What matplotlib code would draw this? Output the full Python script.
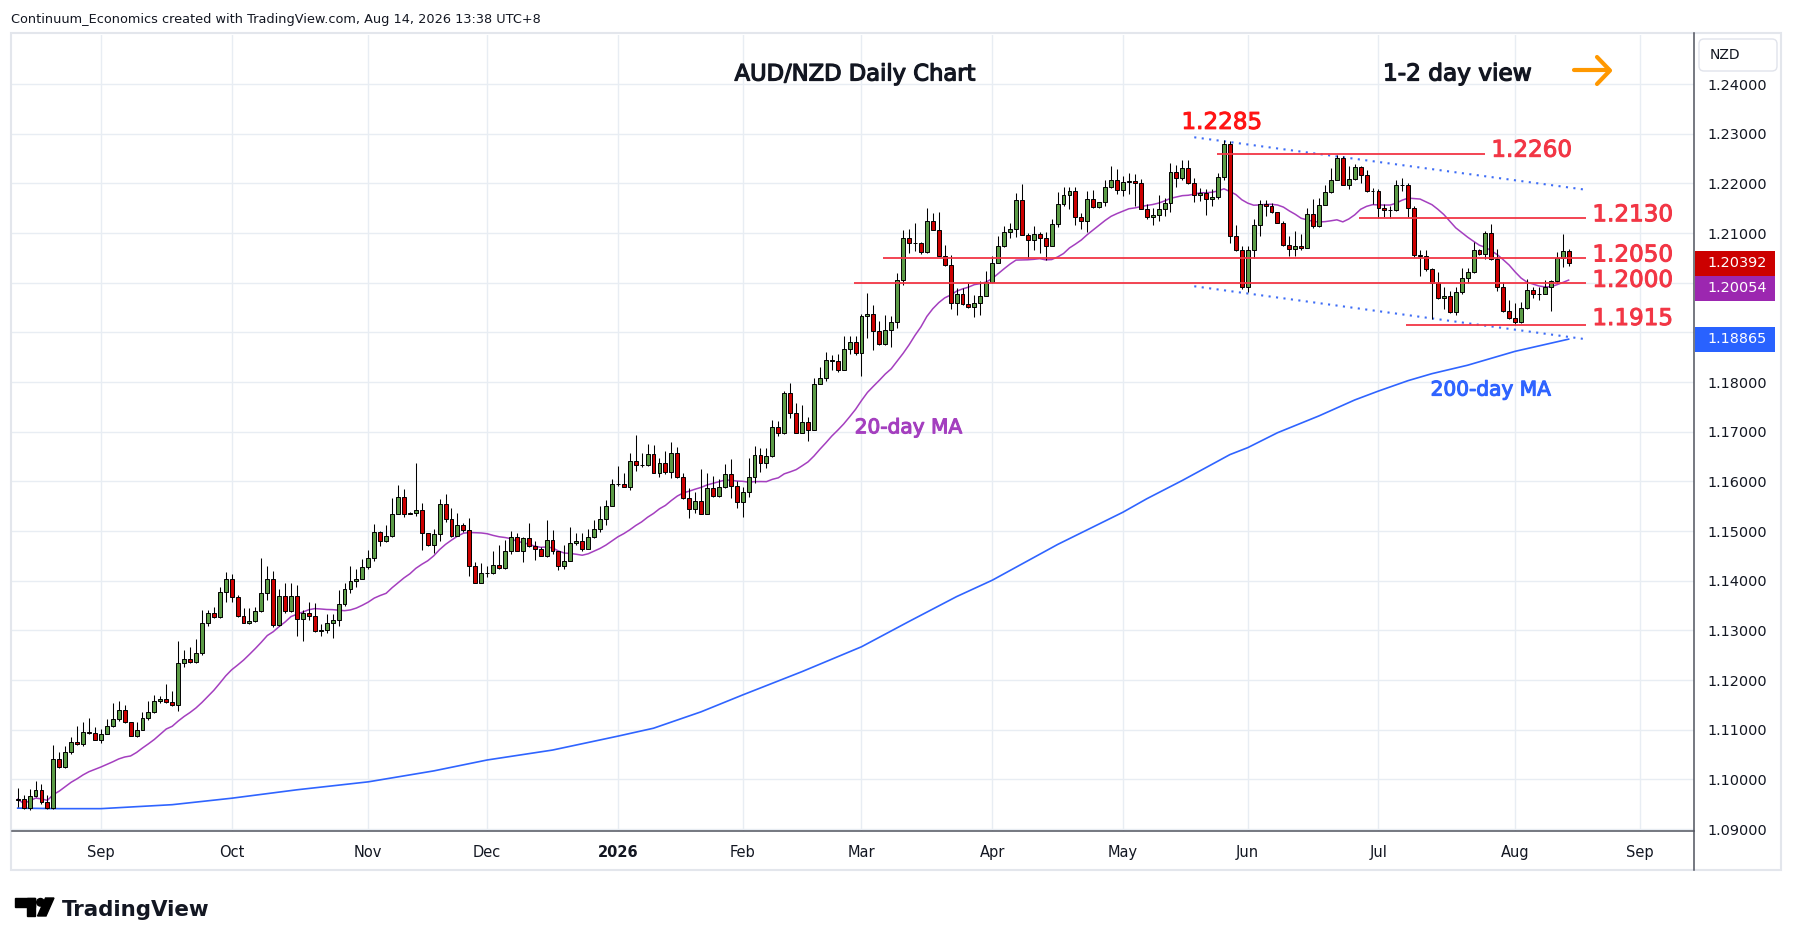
import numpy as np
import pandas as pd
import matplotlib
matplotlib.use("Agg")
import matplotlib.pyplot as plt
import matplotlib.patheffects as pe
from matplotlib import transforms
from matplotlib.patches import Rectangle, FancyBboxPatch, Circle, Polygon

# AUD/NZD daily candles, 12 Aug 2025 -> 14 Aug 2026
first_open = 1.0959
close = [
    1.0960, 1.0943, 1.0967, 1.0979, 1.0954, 1.0943, 1.1040, 1.1025, 1.1056, 1.1075,
    1.1071, 1.1095, 1.1093, 1.1080, 1.1092, 1.1107, 1.1121, 1.1139, 1.1115, 1.1088,
    1.1100, 1.1123, 1.1135, 1.1157, 1.1161, 1.1155, 1.1149, 1.1234, 1.1242, 1.1236,
    1.1254, 1.1315, 1.1335, 1.1327, 1.1377, 1.1403, 1.1367, 1.1329, 1.1315, 1.1319,
    1.1339, 1.1375, 1.1403, 1.1311, 1.1369, 1.1339, 1.1369, 1.1323, 1.1335, 1.1329,
    1.1298, 1.1300, 1.1315, 1.1320, 1.1354, 1.1384, 1.1399, 1.1404, 1.1428, 1.1446,
    1.1499, 1.1480, 1.1491, 1.1535, 1.1569, 1.1535, 1.1536, 1.1542, 1.1497, 1.1471,
    1.1495, 1.1555, 1.1524, 1.1491, 1.1513, 1.1503, 1.1430, 1.1396, 1.1416, 1.1415,
    1.1432, 1.1426, 1.1460, 1.1489, 1.1460, 1.1487, 1.1469, 1.1464, 1.1450, 1.1483,
    1.1460, 1.1430, 1.1440, 1.1476, 1.1480, 1.1464, 1.1488, 1.1504, 1.1524, 1.1551,
    1.1595, 1.1594, 1.1589, 1.1642, 1.1633, 1.1634, 1.1656, 1.1617, 1.1637, 1.1619,
    1.1658, 1.1609, 1.1567, 1.1545, 1.1561, 1.1535, 1.1587, 1.1571, 1.1589, 1.1615,
    1.1591, 1.1559, 1.1579, 1.1609, 1.1654, 1.1637, 1.1652, 1.1710, 1.1698, 1.1779,
    1.1738, 1.1698, 1.1720, 1.1704, 1.1797, 1.1809, 1.1845, 1.1843, 1.1825, 1.1866,
    1.1880, 1.1859, 1.1933, 1.1937, 1.1902, 1.1877, 1.1905, 1.1921, 1.2006, 1.2091,
    1.2081, 1.2080, 1.2063, 1.2125, 1.2107, 1.2054, 1.2036, 1.1960, 1.1978, 1.1958,
    1.1952, 1.1960, 1.1974, 1.2002, 1.2040, 1.2075, 1.2103, 1.2109, 1.2166, 1.2097,
    1.2087, 1.2099, 1.2091, 1.2075, 1.2119, 1.2158, 1.2176, 1.2184, 1.2133, 1.2125,
    1.2168, 1.2152, 1.2162, 1.2192, 1.2206, 1.2186, 1.2202, 1.2204, 1.2200, 1.2149,
    1.2133, 1.2137, 1.2149, 1.2161, 1.2224, 1.2211, 1.2232, 1.2200, 1.2177, 1.2181,
    1.2169, 1.2173, 1.2213, 1.2279, 1.2094, 1.2067, 1.1992, 1.2067, 1.2117, 1.2159,
    1.2154, 1.2143, 1.2121, 1.2076, 1.2069, 1.2075, 1.2071, 1.2139, 1.2114, 1.2157,
    1.2183, 1.2207, 1.2252, 1.2197, 1.2209, 1.2234, 1.2217, 1.2185, 1.2184, 1.2150,
    1.2147, 1.2146, 1.2197, 1.2196, 1.2150, 1.2055, 1.2054, 1.2027, 1.1999, 1.1970,
    1.1973, 1.1942, 1.1982, 1.2009, 1.2021, 1.2067, 1.2057, 1.2100, 1.2047, 1.1992,
    1.1944, 1.1930, 1.1922, 1.1950, 1.1985, 1.1977, 1.1978, 1.1991, 1.2003, 1.2050,
    1.2064, 1.20392,
]
high = [
    1.0983, 1.0968, 1.0981, 1.0996, 1.0990, 1.0969, 1.1069, 1.1055, 1.1068, 1.1086,
    1.1107, 1.1115, 1.1123, 1.1105, 1.1101, 1.1122, 1.1153, 1.1157, 1.1150, 1.1116,
    1.1116, 1.1136, 1.1157, 1.1170, 1.1168, 1.1192, 1.1178, 1.1279, 1.1261, 1.1266,
    1.1283, 1.1341, 1.1341, 1.1348, 1.1387, 1.1418, 1.1414, 1.1372, 1.1345, 1.1345,
    1.1348, 1.1446, 1.1430, 1.1419, 1.1383, 1.1395, 1.1395, 1.1392, 1.1342, 1.1358,
    1.1356, 1.1312, 1.1333, 1.1333, 1.1382, 1.1396, 1.1430, 1.1423, 1.1443, 1.1461,
    1.1514, 1.1500, 1.1513, 1.1567, 1.1592, 1.1585, 1.1538, 1.1638, 1.1557, 1.1497,
    1.1505, 1.1565, 1.1574, 1.1546, 1.1537, 1.1516, 1.1527, 1.1438, 1.1436, 1.1430,
    1.1460, 1.1471, 1.1483, 1.1500, 1.1497, 1.1489, 1.1517, 1.1481, 1.1467, 1.1522,
    1.1502, 1.1460, 1.1471, 1.1509, 1.1496, 1.1496, 1.1504, 1.1523, 1.1550, 1.1563,
    1.1605, 1.1632, 1.1617, 1.1658, 1.1694, 1.1658, 1.1676, 1.1674, 1.1648, 1.1661,
    1.1680, 1.1670, 1.1617, 1.1586, 1.1579, 1.1625, 1.1616, 1.1611, 1.1605, 1.1635,
    1.1646, 1.1601, 1.1589, 1.1648, 1.1671, 1.1667, 1.1668, 1.1724, 1.1721, 1.1782,
    1.1798, 1.1757, 1.1753, 1.1730, 1.1808, 1.1831, 1.1860, 1.1855, 1.1856, 1.1892,
    1.1893, 1.1892, 1.1938, 1.1980, 1.1956, 1.1923, 1.1935, 1.1933, 1.2020, 1.2106,
    1.2109, 1.2121, 1.2082, 1.2150, 1.2141, 1.2143, 1.2076, 1.2055, 1.1990, 1.1990,
    1.2000, 1.1975, 1.2004, 1.2024, 1.2053, 1.2094, 1.2115, 1.2121, 1.2180, 1.2199,
    1.2101, 1.2115, 1.2102, 1.2103, 1.2128, 1.2183, 1.2192, 1.2192, 1.2192, 1.2141,
    1.2184, 1.2187, 1.2163, 1.2207, 1.2235, 1.2229, 1.2216, 1.2222, 1.2220, 1.2209,
    1.2159, 1.2151, 1.2177, 1.2171, 1.2242, 1.2238, 1.2248, 1.2247, 1.2211, 1.2190,
    1.2189, 1.2188, 1.2221, 1.2287, 1.2285, 1.2116, 1.2075, 1.2074, 1.2128, 1.2167,
    1.2167, 1.2161, 1.2134, 1.2124, 1.2095, 1.2104, 1.2099, 1.2151, 1.2168, 1.2171,
    1.2196, 1.2231, 1.2258, 1.2256, 1.2236, 1.2240, 1.2236, 1.2228, 1.2190, 1.2188,
    1.2159, 1.2154, 1.2208, 1.2211, 1.2201, 1.2155, 1.2066, 1.2067, 1.2029, 1.2022,
    1.1992, 1.1984, 1.1992, 1.2029, 1.2029, 1.2083, 1.2069, 1.2105, 1.2119, 1.2069,
    1.2002, 1.1965, 1.1960, 1.1961, 1.2007, 1.1992, 1.1992, 1.2005, 1.2005, 1.2061,
    1.2099, 1.2069,
]
low = [
    1.0944, 1.0941, 1.0939, 1.0965, 1.0951, 1.0940, 1.0940, 1.1022, 1.1023, 1.1052,
    1.1070, 1.1068, 1.1091, 1.1079, 1.1074, 1.1091, 1.1105, 1.1117, 1.1113, 1.1087,
    1.1086, 1.1099, 1.1119, 1.1133, 1.1154, 1.1153, 1.1148, 1.1138, 1.1226, 1.1234,
    1.1234, 1.1251, 1.1308, 1.1325, 1.1325, 1.1358, 1.1358, 1.1327, 1.1314, 1.1313,
    1.1317, 1.1337, 1.1362, 1.1306, 1.1308, 1.1335, 1.1337, 1.1288, 1.1278, 1.1321,
    1.1296, 1.1288, 1.1294, 1.1284, 1.1309, 1.1349, 1.1376, 1.1388, 1.1403, 1.1424,
    1.1440, 1.1469, 1.1478, 1.1488, 1.1534, 1.1528, 1.1534, 1.1530, 1.1462, 1.1469,
    1.1455, 1.1480, 1.1518, 1.1489, 1.1499, 1.1498, 1.1409, 1.1395, 1.1395, 1.1407,
    1.1413, 1.1423, 1.1424, 1.1454, 1.1459, 1.1438, 1.1467, 1.1442, 1.1449, 1.1448,
    1.1453, 1.1421, 1.1423, 1.1439, 1.1471, 1.1459, 1.1463, 1.1486, 1.1498, 1.1513,
    1.1550, 1.1590, 1.1588, 1.1582, 1.1621, 1.1629, 1.1632, 1.1616, 1.1609, 1.1615,
    1.1607, 1.1607, 1.1565, 1.1526, 1.1537, 1.1534, 1.1535, 1.1569, 1.1568, 1.1587,
    1.1567, 1.1547, 1.1529, 1.1569, 1.1597, 1.1619, 1.1627, 1.1650, 1.1691, 1.1696,
    1.1728, 1.1697, 1.1697, 1.1682, 1.1703, 1.1796, 1.1802, 1.1825, 1.1821, 1.1824,
    1.1856, 1.1855, 1.1812, 1.1889, 1.1864, 1.1874, 1.1875, 1.1871, 1.1909, 1.1995,
    1.2059, 1.2064, 1.2057, 1.2059, 1.2106, 1.2053, 1.2034, 1.1948, 1.1935, 1.1956,
    1.1950, 1.1931, 1.1935, 1.1973, 1.2000, 1.2040, 1.2073, 1.2090, 1.2092, 1.2096,
    1.2049, 1.2067, 1.2059, 1.2045, 1.2074, 1.2113, 1.2155, 1.2148, 1.2116, 1.2108,
    1.2103, 1.2150, 1.2151, 1.2155, 1.2191, 1.2179, 1.2175, 1.2178, 1.2154, 1.2148,
    1.2128, 1.2116, 1.2124, 1.2134, 1.2143, 1.2193, 1.2206, 1.2198, 1.2163, 1.2164,
    1.2136, 1.2154, 1.2168, 1.2206, 1.2081, 1.2064, 1.1987, 1.1981, 1.2050, 1.2094,
    1.2134, 1.2140, 1.2120, 1.2074, 1.2054, 1.2054, 1.2067, 1.2070, 1.2111, 1.2113,
    1.2156, 1.2181, 1.2218, 1.2196, 1.2188, 1.2208, 1.2200, 1.2183, 1.2158, 1.2131,
    1.2132, 1.2131, 1.2145, 1.2185, 1.2133, 1.2052, 1.2014, 1.2024, 1.1927, 1.1968,
    1.1948, 1.1940, 1.1935, 1.1978, 1.1999, 1.2020, 1.2055, 1.2047, 1.2046, 1.1984,
    1.1942, 1.1928, 1.1914, 1.1919, 1.1948, 1.1969, 1.1965, 1.1977, 1.1944, 1.2000,
    1.2032, 1.2034,
]

# 200-day MA read at a handful of bars
ma200_bar = [0, 7, 14, 26, 36, 47, 59, 70, 79, 90, 101, 107, 115, 122, 132, 142,
             150, 158, 164, 175, 186, 190, 196, 204, 207, 212, 219, 225, 229, 234,
             238, 244, 252, 261]
ma200_val = [1.0942, 1.0941, 1.0941, 1.0949, 1.0962, 1.0979, 1.0995, 1.1017,
             1.1039, 1.1059, 1.1087, 1.1103, 1.1136, 1.1170, 1.1217, 1.1267,
             1.1318, 1.1368, 1.1401, 1.1473, 1.1538, 1.1565, 1.1602, 1.1654,
             1.1668, 1.1698, 1.1732, 1.1764, 1.1782, 1.1803, 1.1817, 1.1834,
             1.1862, 1.18865]

# support / resistance levels and the bars they span
levels = [1.2260, 1.2130, 1.2050, 1.2000, 1.1915]
level_text = ["1.2260", "1.2130", "1.2050", "1.2000", "1.1915"]
level_from = [201.8, 225.7, 145.6, 140.7, 233.7]
level_to = [247, 264, 264, 264, 264]
peak_text = "1.2285"
peak_bar = 202.6

# falling channel
channel_bar = [198, 263.5]
channel_top = [1.2293, 1.2188]
channel_bot = [1.1993, 1.1887]

price_ticks = [1.09, 1.10, 1.11, 1.12, 1.13, 1.14, 1.15, 1.16, 1.17, 1.18,
               1.19, 1.20, 1.21, 1.22, 1.23, 1.24]

close = np.array(close)
high = np.array(high)
low = np.array(low)
opens = np.r_[first_open, close[:-1]]
n = len(close)
x = np.arange(n)

days = pd.bdate_range("2025-08-12", "2026-09-30", freq="C",
                      holidays=["2025-12-25", "2026-01-01"])
month_pos, month_lab = [], []
for i in range(1, len(days)):
    if days[i].month != days[i - 1].month:
        month_pos.append(i)
        month_lab.append(str(days[i].year) if days[i].month == 1 else days[i].strftime("%b"))

W, H = 1794, 946
fig = plt.figure(figsize=(W / 100, H / 100), dpi=100)
ax = fig.add_axes([12 / W, 1 - 831 / H, 1682 / W, 796 / H])

GREEN = "#5b9b46"
RED = "#cc0000"
LEVEL_RED = "#f23645"
PURPLE = "#a43fbf"
BLUE = "#2f64ff"
INK = "#131722"


def thick(color, w=0.7):
    return [pe.withStroke(linewidth=w, foreground=color)]


ax.vlines(x, low, high, color="black", lw=0.75, zorder=3)
body_col = np.where(close >= opens, GREEN, RED)
ax.bar(x, close - opens, bottom=opens, width=0.66, color=body_col,
       edgecolor="black", linewidth=0.7, zorder=4)

ma20 = pd.Series(close).rolling(20, min_periods=1).mean()
ax.plot(x, ma20, color=PURPLE, lw=1.1, zorder=2)
ax.plot(ma200_bar, ma200_val, color=BLUE, lw=1.2, zorder=2)

ax.plot(channel_bar, channel_top, color="#3d6cf6", lw=1.5, ls=(0, (1, 2.6)), zorder=2)
ax.plot(channel_bar, channel_bot, color="#3d6cf6", lw=1.5, ls=(0, (1, 2.6)), zorder=2)

lift = [0.0007, 0.0007, 0.0006, 0.0005, 0.0013]
for lev, txt, a, b, dy in zip(levels, level_text, level_from, level_to, lift):
    ax.hlines(lev, a, b, color=LEVEL_RED, lw=1.3, zorder=5)
    ax.text(b + 1, lev + dy, txt, color=LEVEL_RED, fontsize=16.6, va="center", ha="left",
            zorder=6, path_effects=thick(LEVEL_RED))
ax.text(peak_bar, 1.2323, peak_text, color="#ff1414", fontsize=16.6, va="center",
        ha="center", zorder=6, path_effects=thick("#ff1414"))

ax.text(149.9, 1.1708, "20-day MA", color=PURPLE, fontsize=14.5, va="center",
        ha="center", path_effects=thick(PURPLE, 0.8))
ax.text(247.9, 1.1784, "200-day MA", color=BLUE, fontsize=14.5, va="center",
        ha="center", path_effects=thick(BLUE, 0.8))

ax.set_xlim(-0.96, 282.1)
ax.set_ylim(1.0896, 1.2499)
ax.set_yticks(price_ticks)
ax.set_yticklabels([f"{v:.5f}" for v in price_ticks])
ax.yaxis.tick_right()
ax.set_xticks(month_pos)
ax.set_xticklabels(month_lab)
for t in ax.get_xticklabels():
    if t.get_text() == "2026":
        t.set_fontweight("bold")
ax.tick_params(axis="y", length=0, pad=9.4, labelsize=10.4, labelcolor=INK)
ax.tick_params(axis="x", length=0, pad=10, labelsize=10.5, labelcolor=INK)
ax.grid(True, color="#e8edf3", lw=1.0)
ax.set_axisbelow(True)
for s in ax.spines.values():
    s.set_visible(False)

# last-value tags on the price scale
tr = transforms.blended_transform_factory(ax.transAxes, ax.transData)
tag_h = 25 / 4966
x0 = 1 + 1 / 1682
x1 = 1 + 81 / 1682
tag_y = [close[-1], close[-1] - tag_h, ma200_val[-1]]
tag_col = [RED, "#9c27b0", "#2962ff"]
tag_vals = [close[-1], ma20.iloc[-1], ma200_val[-1]]
for yc, col, val in zip(tag_y, tag_col, tag_vals):
    ax.add_patch(Rectangle((x0, yc - tag_h / 2), x1 - x0, tag_h, transform=tr,
                           facecolor=col, edgecolor="none", clip_on=False, zorder=10))
    ax.text(1 + 13 / 1682, yc, f"{val:.5f}", transform=tr, color="white",
            fontsize=10.4, va="center", ha="left", clip_on=False, zorder=11)
# price labels sitting under a tag are covered in the reference
for v, lab in zip(price_ticks, ax.get_yticklabels()):
    if any(abs(v - yc) < tag_h for yc in tag_y):
        lab.set_visible(False)

# decorations in pixel space
ov = fig.add_axes([0, 0, 1, 1], facecolor="none")
ov.set_xlim(0, W)
ov.set_ylim(H, 0)
ov.axis("off")
ov.add_patch(Rectangle((11, 33), 1770, 837, facecolor="none", edgecolor="#e3e6ec", lw=1.5))
ov.plot([12, 1694], [831, 831], color="#50535e", lw=1.1)
ov.plot([1694, 1694], [33, 870], color="#50535e", lw=1.1)
ov.add_patch(FancyBboxPatch((1699, 39), 78, 32, boxstyle="round,pad=0,rounding_size=5",
                            facecolor="white", edgecolor="#e0e3eb", lw=1))
ov.text(1710, 55, "NZD", fontsize=10, color=INK, va="center", ha="left")

ov.text(11, 20, "Continuum_Economics created with TradingView.com, Aug 14, 2026 13:38 UTC+8",
        fontsize=9.3, color=INK, va="center", ha="left")
ov.text(855, 74, "AUD/NZD Daily Chart", fontsize=16.3, color=INK, va="center",
        ha="center", path_effects=thick(INK, 0.9))
ov.text(1383, 74, "1-2 day view", fontsize=16.7, color=INK, va="center", ha="left",
        path_effects=thick(INK, 0.9))
ov.plot([1574, 1609], [70.5, 70.5], color="#ff9800", lw=3, solid_capstyle="round")
ov.plot([1597, 1610, 1597], [57, 70.5, 84], color="#ff9800", lw=3,
        solid_capstyle="round", solid_joinstyle="round")

# TradingView logo
ov.add_patch(Rectangle((15, 898), 20, 8.5, color="black"))
ov.add_patch(Rectangle((27, 898), 8, 18, color="black"))
ov.add_patch(Circle((40.5, 902.3), 3.8, color="black"))
ov.add_patch(Polygon([(45.5, 898), (54, 898), (46, 916), (37.5, 916)], color="black"))
ov.text(62, 916, "TradingView", fontsize=15.4, fontweight="bold", color=INK,
        va="baseline", ha="left")

fig.savefig("out.png", dpi=100, facecolor="white")
